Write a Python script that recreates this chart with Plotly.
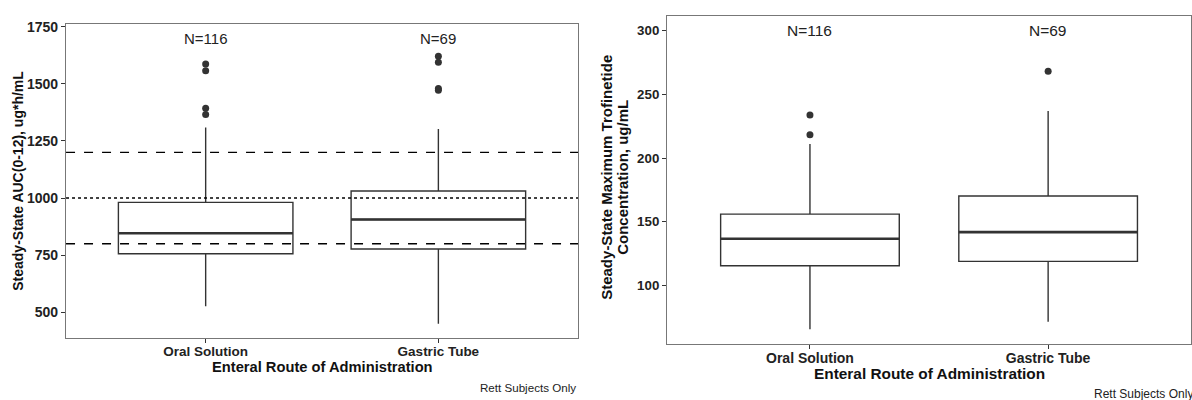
import plotly.graph_objects as go

# Route-of-administration groups
routes = ["Oral Solution", "Gastric Tube"]
n_labels = ["N=116", "N=69"]

# Steady-state AUC(0-12) box statistics per route
auc_q1 = [756, 777]
auc_median = [846, 906]
auc_q3 = [981, 1031]
auc_lower = [526, 450]
auc_upper = [1309, 1302]
auc_out_oral = [1587, 1557, 1393, 1366]
auc_out_gt = [1621, 1594, 1480, 1472]
auc_refs_dash = [800, 1200]
auc_ref_dot = [1000]

# Steady-state Cmax box statistics per route
cmax_q1 = [115.5, 118.9]
cmax_median = [136.7, 141.9]
cmax_q3 = [156.0, 170.2]
cmax_lower = [65.6, 71.6]
cmax_upper = [211.0, 236.9]
cmax_out_oral = [233.8, 218.3]
cmax_out_gt = [268.2]

auc_ticks = [500, 750, 1000, 1250, 1500, 1750]
cmax_ticks = [100, 150, 200, 250, 300]

FONT = "Liberation Sans, Arial, Helvetica, sans-serif"
INK = "#333333"
BOX_W = 0.75

fig = go.Figure()


def add_panel(xa, ya, q1, med, q3, lo, hi, outliers):
    pos = list(range(len(routes)))
    fig.add_trace(go.Box(
        x=pos, q1=q1, median=med, q3=q3, lowerfence=lo, upperfence=hi,
        width=BOX_W, whiskerwidth=0, boxpoints=False,
        fillcolor="white", line=dict(color=INK, width=1.4),
        xaxis=xa, yaxis=ya, showlegend=False, hoverinfo="skip"))
    # thicker median bars
    for i, m in enumerate(med):
        fig.add_trace(go.Scatter(
            x=[i - BOX_W / 2, i + BOX_W / 2], y=[m, m], mode="lines",
            line=dict(color=INK, width=2.6), xaxis=xa, yaxis=ya,
            showlegend=False, hoverinfo="skip"))
    for i, pts in enumerate(outliers):
        fig.add_trace(go.Scatter(
            x=[i] * len(pts), y=pts, mode="markers",
            marker=dict(color=INK, size=7), xaxis=xa, yaxis=ya,
            showlegend=False, hoverinfo="skip"))


add_panel("x", "y", auc_q1, auc_median, auc_q3, auc_lower, auc_upper,
          [auc_out_oral, auc_out_gt])
add_panel("x2", "y2", cmax_q1, cmax_median, cmax_q3, cmax_lower, cmax_upper,
          [cmax_out_oral, cmax_out_gt])

# reference lines on the AUC panel
for v in auc_refs_dash:
    fig.add_shape(type="line", xref="x domain", yref="y", x0=0, x1=1, y0=v, y1=v,
                  line=dict(color="black", width=1.4, dash="dash"), layer="above")
for v in auc_ref_dot:
    fig.add_shape(type="line", xref="x domain", yref="y", x0=0, x1=1, y0=v, y1=v,
                  line=dict(color="black", width=1.4, dash="dot"), layer="above")


def axis_style(size):
    return dict(showline=True, mirror=True, linecolor="#777777", linewidth=1.2,
                ticks="outside", ticklen=4, tickcolor=INK, showgrid=False,
                zeroline=False,
                tickfont=dict(family=FONT, size=size, color="#222222", weight="bold"))


fig.update_layout(
    width=1192, height=400,
    margin=dict(l=0, r=0, t=0, b=0),
    paper_bgcolor="white", plot_bgcolor="white",
    xaxis=dict(domain=[0.0554, 0.4849], range=[-0.6, 1.6],
               tickvals=[0, 1], ticktext=routes, anchor="y",
               ticklabelstandoff=-3, **axis_style(13.5)),
    yaxis=dict(domain=[0.1575, 0.9525], range=[388, 1763],
               tickvals=auc_ticks, anchor="x", **axis_style(14)),
    xaxis2=dict(domain=[0.5596, 0.9992], range=[-0.6, 1.6],
                tickvals=[0, 1], ticktext=routes, anchor="y2",
                ticklabelstandoff=-3, **axis_style(14)),
    yaxis2=dict(domain=[0.1425, 0.9725], range=[54.3, 311.6],
                tickvals=cmax_ticks, anchor="x2", **axis_style(13.3)),
)

ann = []
for i, lab in enumerate(n_labels):
    ann.append(dict(x=i, y=1700, xref="x", yref="y", text=lab, showarrow=False,
                    font=dict(family=FONT, size=15, color="#222222")))
    ann.append(dict(x=i, y=300, xref="x2", yref="y2", text=lab, showarrow=False,
                    font=dict(family=FONT, size=15.5, color="#222222")))


def paper_text(px, py, text, font, xanchor="center", angle=0):
    return dict(x=px / 1192, y=1 - py / 400, xref="paper", yref="paper",
                xanchor=xanchor, yanchor="middle", textangle=angle,
                text=text, showarrow=False, font=font)


def bold(size):
    return dict(family=FONT, size=size, color="#111111", weight="bold")


note_font = dict(family=FONT, size=11.6, color="#222222")
ann += [
    paper_text(322, 367, "Enteral Route of Administration", bold(14.7)),
    paper_text(929, 373, "Enteral Route of Administration", bold(15.4)),
    paper_text(18, 178, "Steady-State AUC(0-12), ug*h/mL", bold(14), angle=-90),
    paper_text(607, 175, "Steady-State Maximum Trofinetide", bold(15), angle=-90),
    paper_text(623, 175, "Concentration, ug/mL", bold(15), angle=-90),
    paper_text(578, 387, "Rett Subjects Only", note_font, xanchor="right"),
    paper_text(1195, 394, "Rett Subjects Only", dict(note_font, size=12), xanchor="right"),
]
fig.update_layout(annotations=ann)

fig.write_html("out.html")
